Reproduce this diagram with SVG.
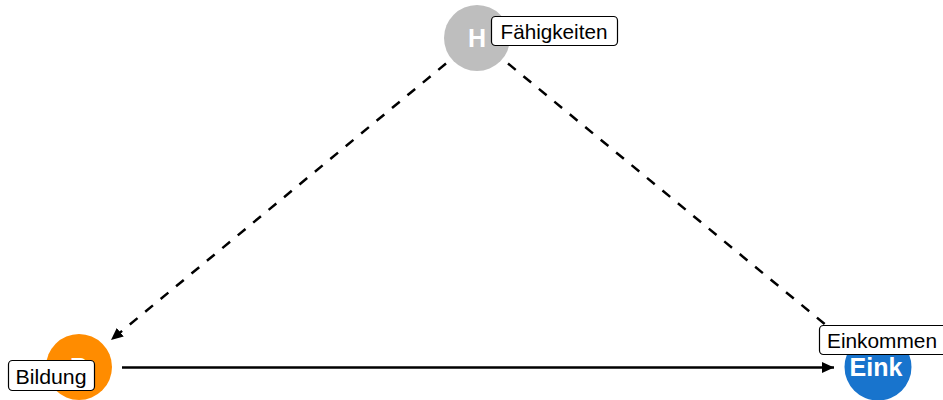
<svg xmlns="http://www.w3.org/2000/svg" width="943" height="400" viewBox="0 0 943 400">
<defs>
<style>
.edge{fill:none;stroke:#000;stroke-width:2.5}
.dash{stroke-dasharray:10 10}
.nlet{font-family:"Liberation Sans",Arial,sans-serif;font-weight:bold;font-size:25px;fill:#fff;text-anchor:middle}
.lbox{fill:#fff;stroke:#000;stroke-width:1.2}
.ltxt{font-family:"Liberation Sans",Arial,sans-serif;font-size:21px;fill:#000}
</style>
<marker id="ah" viewBox="0 0 12 11" refX="12" refY="5.5" markerWidth="12" markerHeight="11" markerUnits="userSpaceOnUse" orient="auto">
<path d="M0,0 L12,5.5 L0,11 Z" fill="#000"/>
</marker>
</defs>
<rect width="943" height="400" fill="#fff"/>
<g id="connectors">
<line class="edge dash" x1="446" y1="63.5" x2="111" y2="340" marker-end="url(#ah)"/>
<line class="edge dash" x1="508" y1="63.5" x2="846" y2="341.5" marker-end="url(#ah)"/>
<line class="edge" x1="122" y1="367.5" x2="834" y2="367.5" marker-end="url(#ah)"/>
</g>
<g id="node-H">
<circle cx="477" cy="38" r="33" fill="#BEBEBE"/>
<text class="nlet" x="477" y="47">H</text>
</g>
<g id="node-B">
<circle cx="79" cy="367" r="33" fill="#FF8C00"/>
<text class="nlet" x="79" y="376">B</text>
</g>
<g id="node-Eink">
<circle cx="878" cy="367" r="33.5" fill="#1874CD"/>
<text class="nlet" x="876" y="376">Eink</text>
</g>
<g id="label-H">
<rect class="lbox" x="491.5" y="16.5" width="126" height="29" rx="4"/>
<text class="ltxt" x="500.5" y="39" textLength="107" lengthAdjust="spacingAndGlyphs">Fähigkeiten</text>
</g>
<g id="label-B">
<rect class="lbox" x="8.5" y="360.5" width="86" height="30" rx="4"/>
<text class="ltxt" x="15.5" y="383.5" textLength="71" lengthAdjust="spacingAndGlyphs">Bildung</text>
</g>
<g id="label-Eink">
<rect class="lbox" x="819.5" y="325.5" width="130" height="29" rx="4"/>
<text class="ltxt" x="827" y="347.5" textLength="110" lengthAdjust="spacingAndGlyphs">Einkommen</text>
</g>
</svg>
